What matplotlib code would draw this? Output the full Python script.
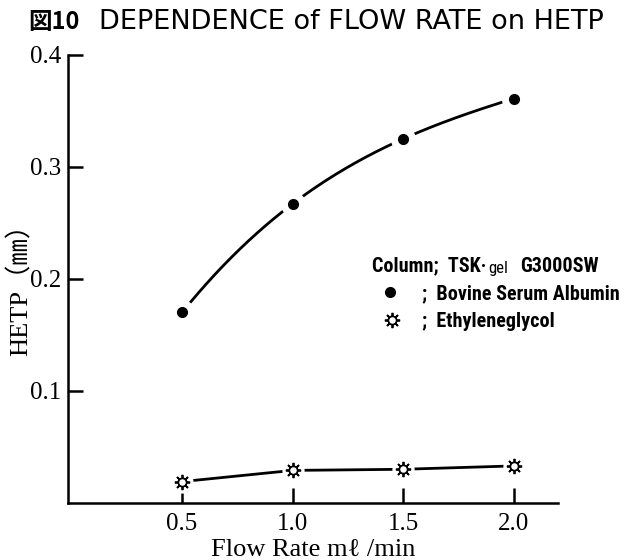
import matplotlib
matplotlib.use("Agg")
import matplotlib.pyplot as plt
import numpy as np

flow = [0.5, 1.0, 1.5, 2.0]
bsa_hetp = [0.170, 0.267, 0.325, 0.361]
eg_hetp = [0.019, 0.029, 0.030, 0.033]
xticks = [0.5, 1.0, 1.5, 2.0]
yticks = [0.1, 0.2, 0.3, 0.4]

SERIF = ["Liberation Serif", "DejaVu Serif", "Noto Sans CJK JP"]
NARROW = ["Roboto Condensed", "Liberation Sans Narrow", "Liberation Sans", "DejaVu Sans"]

fig = plt.figure(figsize=(6.29, 5.60), dpi=100)
ax = fig.add_axes([0.108, 0.102, 0.779, 0.8])

# smooth curve through the BSA points
coef = np.polyfit(flow, bsa_hetp, 3)
xs = np.linspace(flow[0], flow[-1], 200)
ax.plot(xs, np.polyval(coef, xs), color="black", lw=2, zorder=2)
ax.plot(flow, eg_hetp, color="black", lw=2, zorder=2)

# white halos make the gaps around the symbols
ax.plot(flow, bsa_hetp, "o", ms=17, color="white", zorder=2.1)
ax.plot(flow, eg_hetp, "o", ms=15, color="white", zorder=2.1)
ax.plot(flow, bsa_hetp, "o", ms=7, color="black", zorder=3)
ax.plot(flow, eg_hetp, marker=(8, 2, 0), ls="none", ms=11, color="black",
        mew=1.3, zorder=3)
ax.plot(flow, eg_hetp, "o", ms=6, mfc="white", mec="black", mew=1.3, zorder=3.1)

ax.set_xlim(-0.016, 2.2)
ax.set_ylim(0, 0.4)
ax.spines["top"].set_visible(False)
ax.spines["right"].set_visible(False)
for s in ("left", "bottom"):
    ax.spines[s].set_linewidth(1.8)
ax.set_xticks(xticks)
ax.set_yticks(yticks)
ax.set_xticklabels([f"{v:.1f}" for v in xticks], fontfamily=SERIF, fontsize=18)
ax.set_yticklabels([f"{v:.1f}" for v in yticks], fontfamily=SERIF, fontsize=18)
ax.tick_params(direction="in", length=11, width=1.8, pad=5)
ax.tick_params(axis="x", pad=7)

ax.set_xlabel("Flow Rate mℓ /min", fontfamily=SERIF, fontsize=19, labelpad=3)
ax.set_ylabel("HETP（㎜）", fontfamily=SERIF, fontsize=19)
ax.yaxis.set_label_coords(-0.072, 0.49)

# title
fig.text(0.045, 0.96, "図10", fontfamily=["Noto Sans CJK JP", "DejaVu Sans"],
         fontsize=17, fontweight="bold", va="center")
fig.text(0.158, 0.96, "DEPENDENCE of FLOW RATE on HETP",
         fontfamily=["DejaVu Sans", "Noto Sans CJK JP"], fontsize=19.5, va="center")

# legend block
tkw = dict(fontfamily=NARROW, fontsize=14.5, fontweight="bold", va="baseline")
t1 = fig.text(0.592, 0.515, "Column;  TSK·", **tkw)
t2 = ax.annotate("gel", xy=(1, 0), xycoords=t1, xytext=(1, 0),
                 textcoords="offset points", fontfamily=NARROW, fontsize=12,
                 va="bottom")
ax.annotate("G3000SW", xy=(1, 0), xycoords=(t2, t1), xytext=(9, 0),
            textcoords="offset points", fontfamily=NARROW, fontsize=14.5,
            fontweight="bold", va="bottom")
fig.text(0.671, 0.466, ";  Bovine Serum Albumin", **tkw)
fig.text(0.671, 0.416, ";  Ethyleneglycol", **tkw)
fig.lines.append(plt.Line2D([0.62], [0.478], marker="o", ms=7, color="black",
                            transform=fig.transFigure, figure=fig))
fig.lines.append(plt.Line2D([0.623], [0.428], marker=(8, 2, 0), ms=11,
                            color="black", mew=1.3, transform=fig.transFigure,
                            figure=fig))
fig.lines.append(plt.Line2D([0.623], [0.428], marker="o", ms=6, mfc="white",
                            mec="black", mew=1.3, transform=fig.transFigure,
                            figure=fig))

fig.savefig("out.png", dpi=100)
